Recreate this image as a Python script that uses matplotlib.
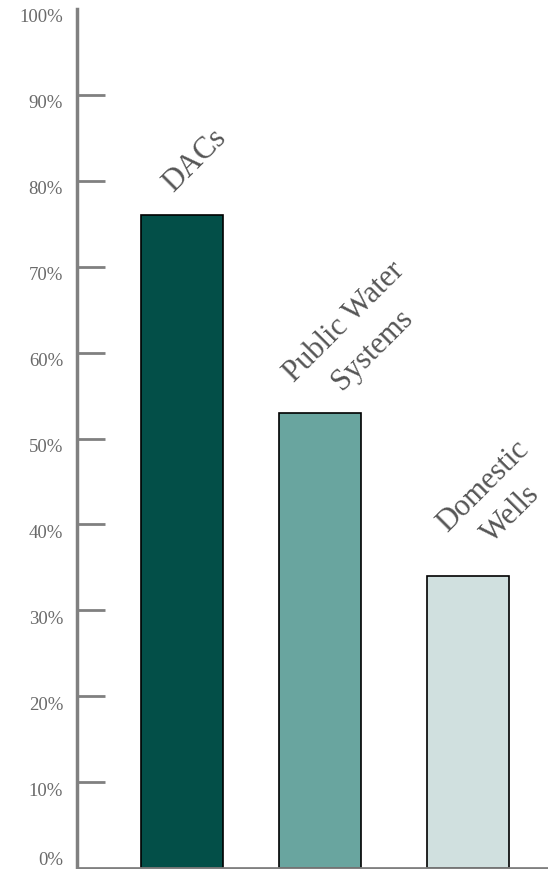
import matplotlib
matplotlib.use("Agg")
import matplotlib.pyplot as plt
import matplotlib.transforms as mtransforms

# data
categories = ["DACs", "Public Water\nSystems", "Domestic\nWells"]
values = [76, 53, 34]
positions = [0, 1, 2.07]
colors = ["#034f48", "#69a59f", "#d0e0df"]
yticks = list(range(0, 101, 10))
ytick_labels = [f"{t}%" for t in yticks]

plt.rcParams["font.family"] = ["Liberation Serif", "DejaVu Serif"]

fig = plt.figure(figsize=(5.48, 8.69), dpi=100)
ax = fig.add_axes([77 / 548, 1 / 869, 471 / 548, 859 / 869])

ax.bar(positions, values, width=0.594, color=colors, edgecolor="black", linewidth=1.2)

ax.set_xlim(-0.761, 2.652)
ax.set_ylim(0, 100)

# rotated category labels above each bar, one text per line
fs = 22
step = 1.3 * fs  # points between lines
offsets = [(0.094, 6.3), (0.28, 8.9), (0.21, 8.8)]
for x, v, lab, (dx, dy) in zip(positions, values, categories, offsets):
    lines = lab.split("\n")
    n = len(lines)
    for i, line in enumerate(lines):
        k = (i - (n - 1) / 2) * step
        tr = mtransforms.offset_copy(ax.transData, fig=fig, x=0.7071 * k,
                                     y=-0.7071 * k, units="points")
        ax.text(x + dx, v + dy, line, transform=tr, rotation=45,
                ha="center", va="center", fontsize=fs, color="#555555",
                rotation_mode="anchor")

for s in ["top", "right"]:
    ax.spines[s].set_visible(False)
ax.spines["left"].set_color("#808080")
ax.spines["left"].set_linewidth(2.5)
ax.spines["bottom"].set_color("#808080")
ax.spines["bottom"].set_linewidth(2)

ax.set_xticks([])
ax.set_yticks(yticks)
ax.set_yticklabels(ytick_labels, fontsize=13.5, color="#6a6a6a")
ax.tick_params(axis="y", direction="in", length=20, width=2, color="#808080", pad=10)
# no visible tick marks at the ends of the axis
ax.yaxis.get_major_ticks()[0].tick1line.set_visible(False)
ax.yaxis.get_major_ticks()[-1].tick1line.set_visible(False)

# shift tick labels slightly below their ticks
labels = ax.get_yticklabels()
for lbl in labels[1:]:
    lbl.set_transform(lbl.get_transform()
                      + mtransforms.ScaledTranslation(0, -7 / 100, fig.dpi_scale_trans))
# keep the bottom label inside the figure
labels[0].set_va("bottom")
labels[0].set_transform(labels[0].get_transform()
                        + mtransforms.ScaledTranslation(0, -1 / 100, fig.dpi_scale_trans))

fig.savefig("out.png", dpi=100)
